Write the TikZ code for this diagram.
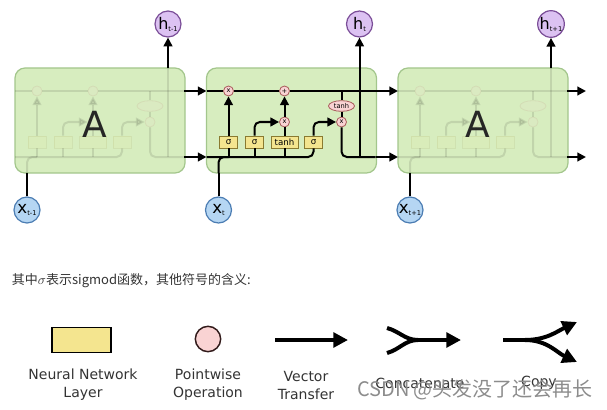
\documentclass[tikz,border=0pt]{standalone}
\usepackage{fontspec}
\setmainfont{DejaVu Sans}
\newfontfamily\cjk{Noto Sans CJK SC}
\usetikzlibrary{arrows.meta,shapes.geometric}
\definecolor{boxfill}{HTML}{D7EDBF}
\definecolor{boxline}{HTML}{A3C68C}
\definecolor{hfill}{HTML}{DCC2F2}
\definecolor{hline}{HTML}{7B4E98}
\definecolor{xfill}{HTML}{B5D6F3}
\definecolor{xline}{HTML}{4C7DB3}
\definecolor{pfill}{HTML}{F9D3D3}
\definecolor{pline}{HTML}{A85A5A}
\definecolor{yfill}{HTML}{F4E58F}
\definecolor{yline}{HTML}{8A7A30}
\definecolor{txt}{HTML}{333333}
\newif\ifghostcell
\newcommand\celltxt[1]{\ifghostcell\phantom{#1}\else#1\fi}
\newcommand\lstmparts[1]{%
  \node[pw] (#1f) at (22,91) {\celltxt{x}};
  \node[pw] (#1a) at (78,91) {\celltxt{+}};
  \node[pw] (#1i) at (78,122) {\celltxt{x}};
  \node[pw] (#1o) at (135,122) {\celltxt{x}};
  \node[pwe] (#1th) at (135,106) {\celltxt{tanh}};
  \node[nnl] (#1s1) at (22,142) {\celltxt{σ}};
  \node[nnl] (#1s2) at (48,142) {\celltxt{σ}};
  \node[nnl,minimum width=20.25pt] (#1s3) at (78,142) {\celltxt{tanh}};
  \node[nnl] (#1s4) at (107,142) {\celltxt{σ}};
  \coordinate (#1L1) at (0,91);
  \coordinate (#1L2) at (0,157);
  \coordinate (#1R1) at (169,91);
  \coordinate (#1R2) at (169,157);
  \coordinate (#1cj) at (135,91);
  \coordinate (#1hj) at (153,157);
  \coordinate (#1ht) at (153,68);
  \coordinate (#1xin) at (12,173);
  \draw (#1L1) -- (#1f) -- (#1a) -- (#1R1);
  \draw (#1cj) -- (#1th) -- (#1o);
  \draw[arr] (#1s1) -- (#1f);
  \draw[arr,rounded corners=4pt] (#1s2.north) |- (#1i);
  \draw (#1s3) -- (#1i);
  \draw[arr] (#1i) -- (#1a);
  \draw[arr,rounded corners=4pt] (#1s4.north) |- (#1o);
  \draw[rounded corners=4pt] (#1L2) -| (#1s4.south);
  \draw (#1s1.south) -- (#1s1|-#1L2);
  \draw (#1s2.south) -- (#1s2|-#1L2);
  \draw (#1s3.south) -- (#1s3|-#1L2);
  \draw[rounded corners=4pt] (#1o.south) |- (#1R2);
  \draw (#1hj) -- (#1ht);
  \draw[rounded corners=4pt] (#1xin) |- (#1s1|-#1L2);
}
\begin{document}
\begin{tikzpicture}[x=0.75pt,y=-0.75pt,line width=1.5pt,
  arr/.style={-{Triangle[length=6.5pt,width=6.5pt]}},
  bigarr/.style={-{Triangle[length=11pt,width=11pt]}},
  cellbox/.style={draw=boxline,fill=boxfill,rounded corners=7.5pt,line width=0.9pt,
    minimum width=127.5pt,minimum height=78.75pt,inner sep=0pt},
  hcirc/.style={circle,draw=hline,fill=hfill,minimum size=19.5pt,inner sep=0pt,line width=0.9pt,
    font=\fontsize{12}{12}\selectfont},
  xcirc/.style={circle,draw=xline,fill=xfill,minimum size=19.5pt,inner sep=0pt,line width=0.9pt,
    font=\fontsize{12.5}{12.5}\selectfont},
  pw/.style={circle,draw=pline,fill=pfill,minimum size=7.5pt,inner sep=0pt,line width=0.6pt,
    font=\fontsize{5}{5}\selectfont},
  pwe/.style={ellipse,draw=pline,fill=pfill,minimum width=19.5pt,minimum height=8pt,inner sep=0pt,
    line width=0.6pt,font=\fontsize{5}{5}\selectfont},
  nnl/.style={draw=yline,fill=yfill,minimum width=13.5pt,minimum height=9pt,inner sep=0.5pt,
    line width=0.6pt,font=\fontsize{6.5}{6.5}\selectfont},
  bigA/.style={font=\fontsize{27}{27}\selectfont,text=black!85},
  lbl/.style={align=center,text=txt,font=\fontsize{10.5}{13.5}\selectfont},
  subs/.style={}]
\useasboundingbox (0,0) rectangle (607,410);
% boxes
\node[cellbox] (boxA) at (100,120.5) {};
\node[cellbox] (boxB) at (291.5,120.5) {};
\node[cellbox] (boxC) at (483,120.5) {};
% ghost internals
\ghostcelltrue
\begin{scope}[shift={(15,0)},opacity=0.1]
  \lstmparts{gA}
\end{scope}
\begin{scope}[shift={(398,0)},opacity=0.1]
  \lstmparts{gC}
\end{scope}
\ghostcellfalse
\node[bigA] (labA) at (95,124) {A};
\node[bigA] (labC) at (478,124) {A};
% middle cell
\begin{scope}[shift={(206.5,0)}]
  \lstmparts{m}
\end{scope}
% circles
\node[hcirc] (hA) at (168,24) {h\raisebox{-1.5pt}{\fontsize{5}{5}\selectfont t-1}};
\node[hcirc] (hB) at (359.5,24) {h\raisebox{-1.5pt}{\fontsize{5}{5}\selectfont t}};
\node[hcirc] (hC) at (551,24) {h\raisebox{-1.5pt}{\fontsize{5}{5}\selectfont t+1}};
\node[xcirc] (xA) at (27,210) {x\raisebox{-1.5pt}{\fontsize{5}{5}\selectfont t-1}};
\node[xcirc] (xB) at (218.5,210) {x\raisebox{-1.5pt}{\fontsize{5}{5}\selectfont t}};
\node[xcirc] (xC) at (410,210) {x\raisebox{-1.5pt}{\fontsize{5}{5}\selectfont t+1}};
% outer connectors
\draw (xA) -- (gAxin);
\draw (xB) -- (mxin);
\draw (xC) -- (gCxin);
\draw[arr] (gAht) -- (hA);
\draw[arr] (mhj) -- (hB);
\draw[arr] (gCht) -- (hC);
\draw[arr] (gAR1) -- (mL1);
\draw[arr] (gAR2) -- (mL2);
\draw[arr] (mR1) -- (gCL1);
\draw[arr] (mR2) -- (gCL2);
\coordinate (endC1) at (586,91);
\coordinate (endC2) at (586,157);
\draw[arr] (gCR1) -- (endC1);
\draw[arr] (gCR2) -- (endC2);
% caption
\node[anchor=west,text=txt,font=\fontsize{9.75}{12}\selectfont,inner sep=0pt] (cap) at (11,281)
  {{\cjk 其中}$\sigma${\cjk 表示sigmod函数，其他符号的含义:}};
% legend
\node[draw=black,fill=yfill,line width=1.1pt,minimum width=44pt,minimum height=19pt,inner sep=0pt] (lg1) at (81.5,340) {};
\node[circle,draw=black!70!pline,fill=pfill,line width=1.1pt,minimum size=19pt,inner sep=0pt] (lg2) at (208,339) {};
\coordinate (v1) at (275,340);
\coordinate (v2) at (348,340);
\draw[bigarr,line width=3pt] (v1) -- (v2);
\coordinate (c1) at (387,328);
\coordinate (c2) at (387,353);
\coordinate (cj) at (418,340);
\coordinate (c3) at (461,340);
\draw[line width=3pt] (c1) to[out=-15,in=180] (cj);
\draw[line width=3pt] (c2) to[out=15,in=180] (cj);
\draw[bigarr,line width=3pt] (cj) -- (c3);
\coordinate (p1) at (503,340);
\coordinate (pj) at (525,340);
\coordinate (p2) at (577,322);
\coordinate (p3) at (577,362);
\draw[line width=3pt] (p1) -- (pj);
\draw[bigarr,line width=3pt] (pj) to[out=0,in=205] (p2);
\draw[bigarr,line width=3pt] (pj) to[out=0,in=155] (p3);
\node[lbl] (t1) at (83,385) {Neural Network\\Layer};
\node[lbl] (t2) at (208,385) {Pointwise\\Operation};
\node[lbl] (t3) at (306,385) {Vector\\Transfer};
\node[lbl] (t4) at (420,383) {Concatenate};
\node[lbl] (t5) at (539,383) {Copy};
\node[text=black!45,font=\fontsize{15}{15}\selectfont,inner sep=0pt] (wm) at (475,390)
  {{\cjk CSDN @头发没了还会再长}};
\end{tikzpicture}
\end{document}
